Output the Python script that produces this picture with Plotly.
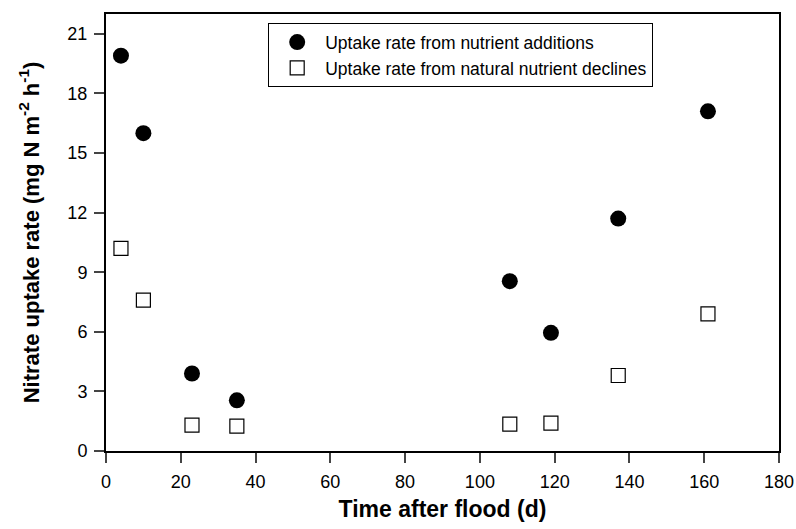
import plotly.graph_objects as go

days = [4, 10, 23, 35, 108, 119, 137, 161]
uptake_additions = [19.9, 16.0, 3.9, 2.55, 8.55, 5.95, 11.7, 17.1]
uptake_declines = [10.2, 7.6, 1.3, 1.25, 1.35, 1.4, 3.8, 6.9]

x_ticks = list(range(0, 181, 20))
y_ticks = list(range(0, 22, 3))

fig = go.Figure()
fig.add_trace(go.Scatter(
    x=days, y=uptake_additions, mode="markers",
    name="Uptake rate from nutrient additions",
    legendgroup="a",
    marker=dict(symbol="circle", size=16, color="black", line=dict(width=0)),
))
fig.add_trace(go.Scatter(
    x=days, y=uptake_declines, mode="markers",
    name="Uptake rate from natural nutrient declines",
    legendgroup="b",
    marker=dict(symbol="square", size=14, color="white", line=dict(width=1.2, color="black")),
))

font_family = "Liberation Sans, Arial, sans-serif"
fig.update_layout(
    width=796, height=529,
    margin=dict(l=106, r=17, t=14, b=78, autoexpand=False),
    plot_bgcolor="white", paper_bgcolor="white",
    font=dict(family=font_family, color="black", size=16),
    showlegend=True,
    legend=dict(
        x=0.241, y=0.979, xanchor="left", yanchor="top",
        bordercolor="black", borderwidth=1, bgcolor="white",
        font=dict(size=17.5, family=font_family),
        tracegroupgap=0,
        itemwidth=46,
    ),
    xaxis=dict(
        range=[0, 180], tickvals=x_ticks, ticks="outside", ticklen=10, tickwidth=2,
        showline=True, linewidth=2, linecolor="black", mirror=True,
        showgrid=False, zeroline=False, automargin=False,
        tickfont=dict(size=18), ticklabelstandoff=3,
        title=dict(text="<b>Time after flood (d)</b>", font=dict(size=23), standoff=10),
    ),
    yaxis=dict(
        range=[0, 22], tickvals=y_ticks, ticks="outside", ticklen=10, tickwidth=2,
        showline=True, linewidth=2, linecolor="black", mirror=True,
        showgrid=False, zeroline=False, automargin=False,
        tickfont=dict(size=18), ticklabelstandoff=3,
        title=dict(text="<b>Nitrate uptake rate (mg N m<sup>-2</sup> h<sup>-1</sup>)</b>",
                   font=dict(size=22), standoff=22),
    ),
)

fig.write_html("out.html")
